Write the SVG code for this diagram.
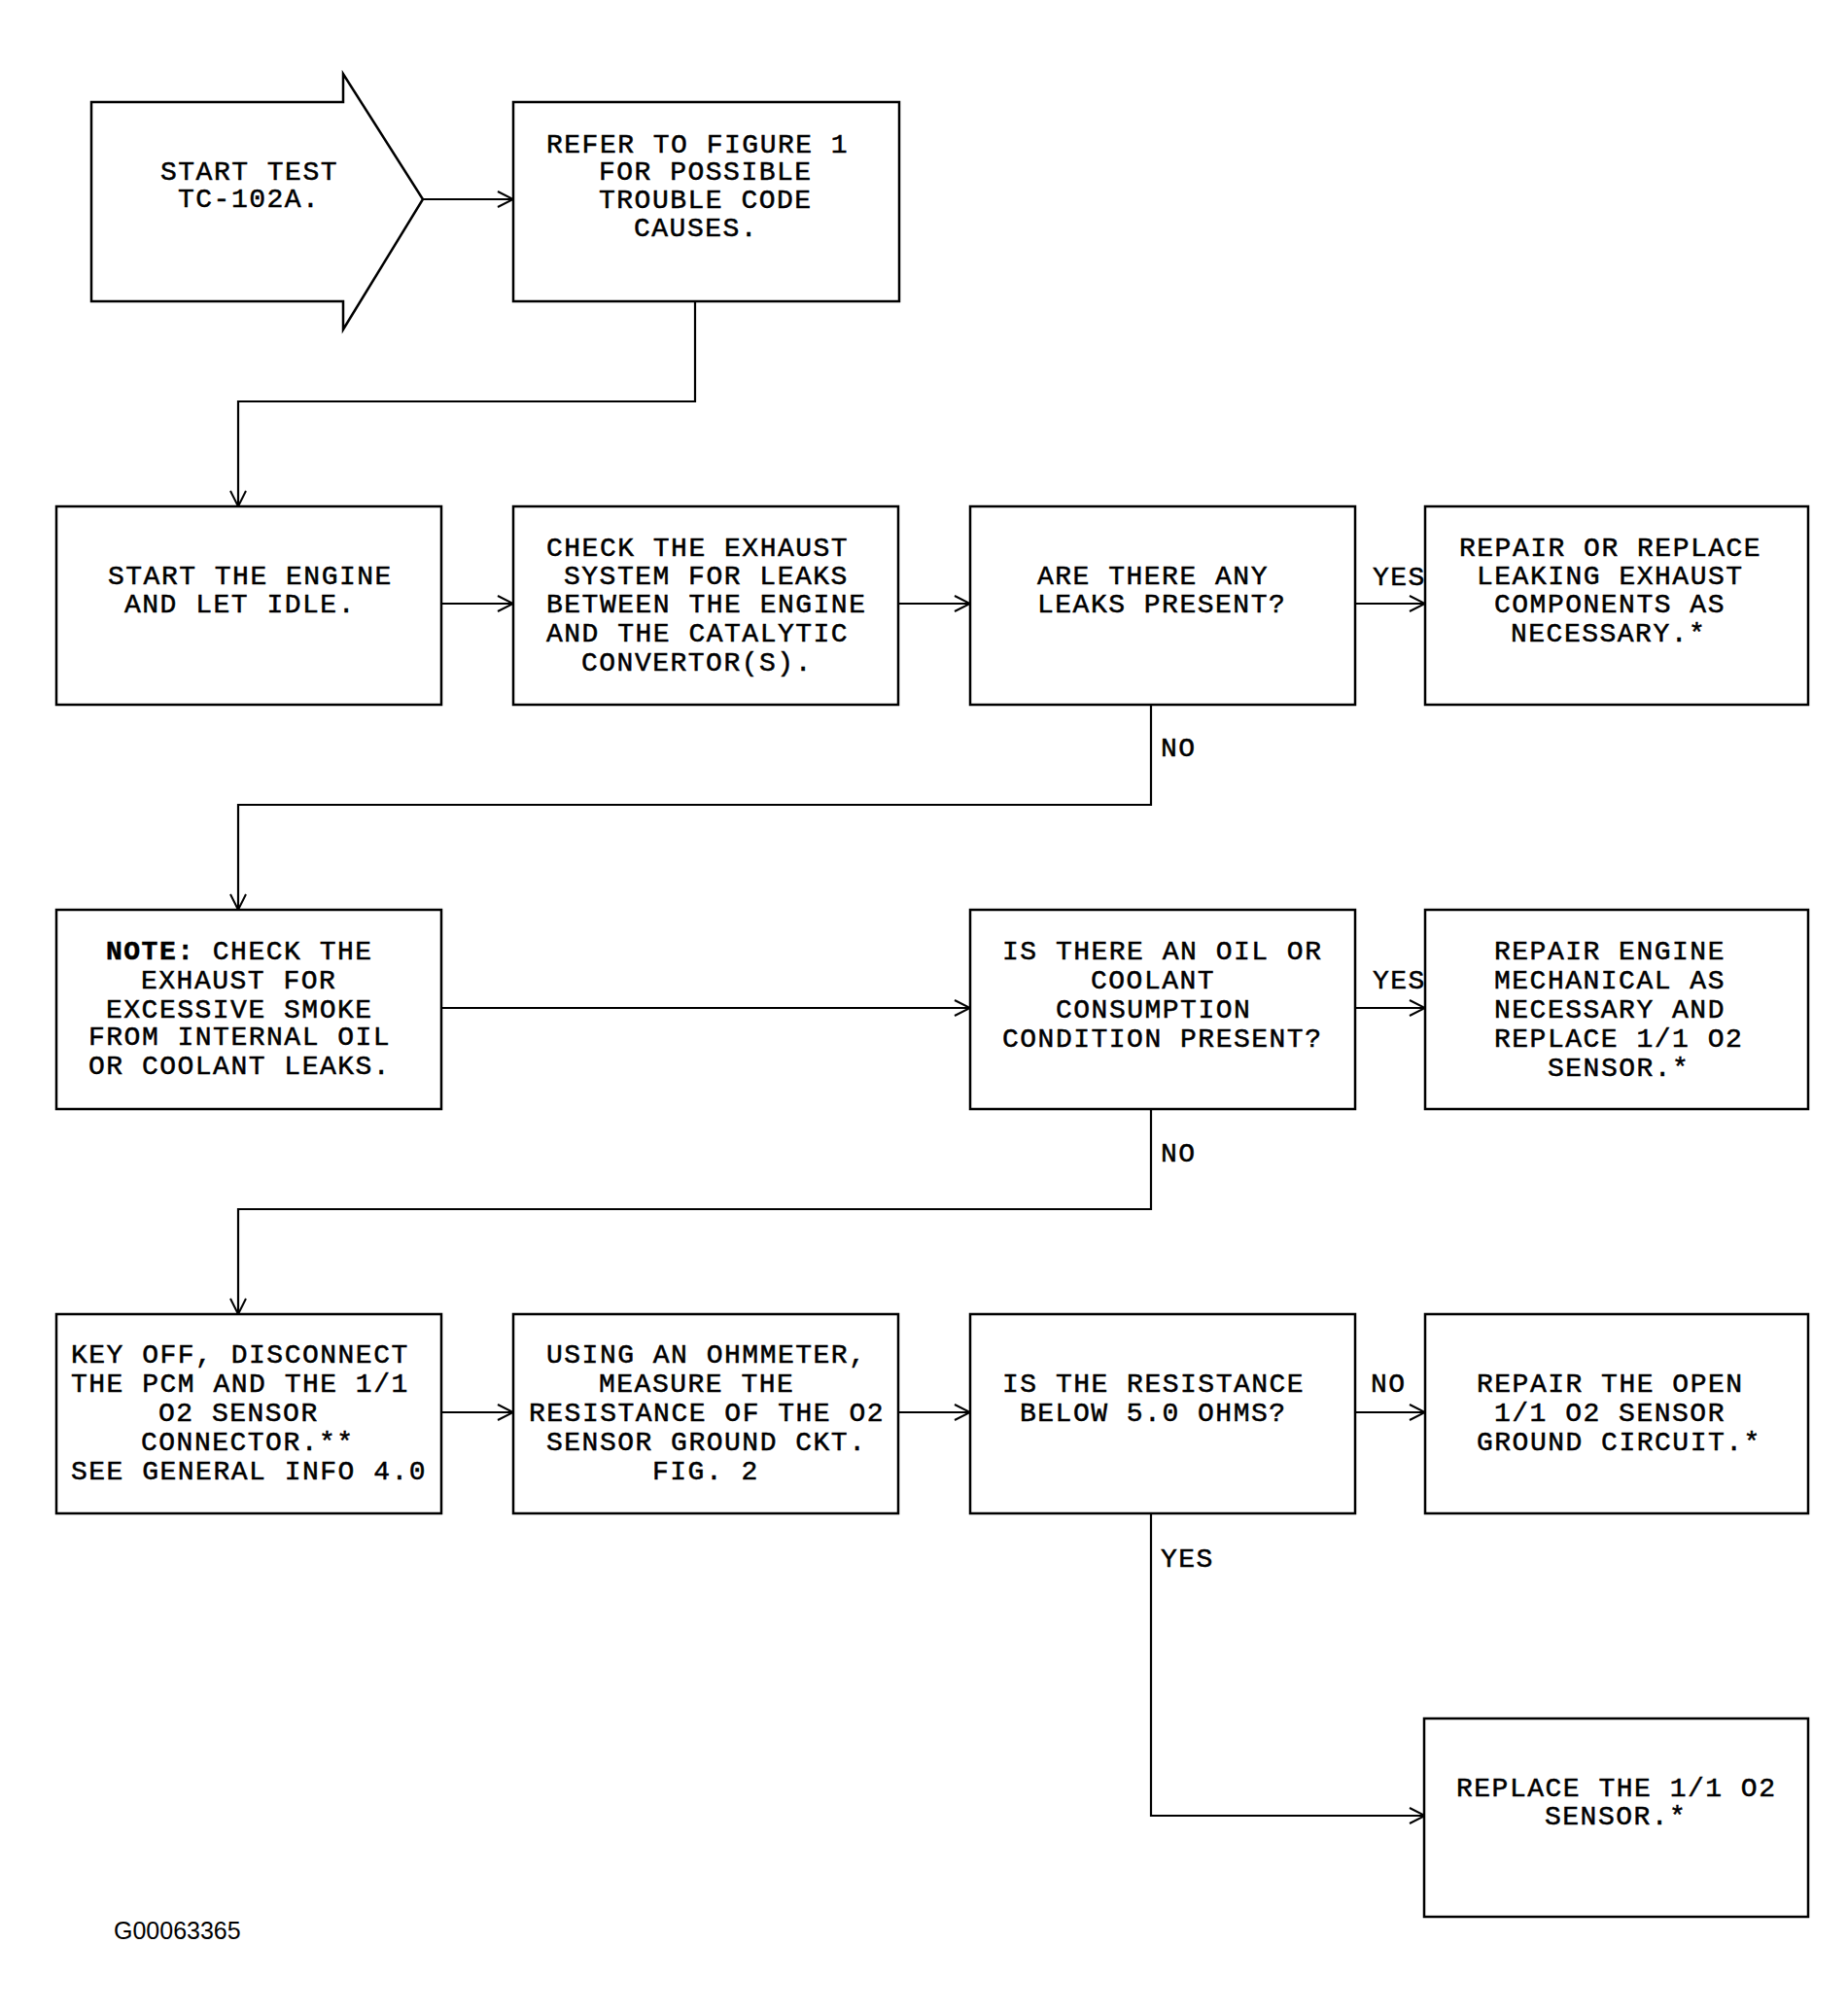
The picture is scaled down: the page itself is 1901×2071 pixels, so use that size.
<svg xmlns="http://www.w3.org/2000/svg" width="1901" height="2071" viewBox="0 0 1901 2071">
<style>
.box{fill:#fff;stroke:#000;stroke-width:2.5}
.t{font-family:"Liberation Mono","DejaVu Sans Mono",monospace;font-size:28px;letter-spacing:1.5px;fill:#000;stroke:#000;stroke-width:0.5}
.b{font-weight:bold}
.conn{fill:none;stroke:#000;stroke-width:2.2}
.id{font-family:"Liberation Sans",Arial,sans-serif;font-size:25px;fill:#000}
</style>
<defs>
<marker id="ah" viewBox="0 0 18 18" refX="17" refY="9" markerWidth="18" markerHeight="18" markerUnits="userSpaceOnUse" orient="auto">
<path d="M1,1 L17,9 L1,17" fill="none" stroke="#000" stroke-width="2"/>
</marker>
</defs>
<rect width="1901" height="2071" fill="#fff"/>
<g id="connectors">
<path class="conn" d="M435,205 H528" marker-end="url(#ah)"/>
<path class="conn" d="M715,310 V413 H245 V521" marker-end="url(#ah)"/>
<path class="conn" d="M454,621 H528" marker-end="url(#ah)"/>
<path class="conn" d="M924,621 H998" marker-end="url(#ah)"/>
<path class="conn" d="M1394,621 H1466" marker-end="url(#ah)"/>
<path class="conn" d="M1184,725 V828 H245 V936" marker-end="url(#ah)"/>
<path class="conn" d="M454,1037 H998" marker-end="url(#ah)"/>
<path class="conn" d="M1394,1037 H1466" marker-end="url(#ah)"/>
<path class="conn" d="M1184,1141 V1244 H245 V1352" marker-end="url(#ah)"/>
<path class="conn" d="M454,1453 H528" marker-end="url(#ah)"/>
<path class="conn" d="M924,1453 H998" marker-end="url(#ah)"/>
<path class="conn" d="M1394,1453 H1466" marker-end="url(#ah)"/>
<path class="conn" d="M1184,1557 V1868 H1466" marker-end="url(#ah)"/>
<text class="t" x="1412" y="602">YES</text>
<text class="t" x="1194" y="778">NO</text>
<text class="t" x="1412" y="1017">YES</text>
<text class="t" x="1194" y="1195">NO</text>
<text class="t" x="1410" y="1432">NO</text>
<text class="t" x="1194" y="1612">YES</text>
</g>
<g id="n_start">
<polygon class="box" points="94,105 353,105 353,76 435,205 353,339 353,310 94,310"/>
<text class="t" x="165" y="185">START TEST</text>
<text class="t" x="183" y="213">TC-102A.</text>
</g>
<g id="n_refer">
<rect class="box" x="528" y="105" width="397" height="205"/>
<text class="t" x="562" y="157">REFER TO FIGURE 1</text>
<text class="t" x="616" y="185">FOR POSSIBLE</text>
<text class="t" x="616" y="214">TROUBLE CODE</text>
<text class="t" x="652" y="243">CAUSES.</text>
</g>
<g id="n_start_engine">
<rect class="box" x="58" y="521" width="396" height="204"/>
<text class="t" x="111" y="601">START THE ENGINE</text>
<text class="t" x="128" y="630">AND LET IDLE.</text>
</g>
<g id="n_check_exhaust">
<rect class="box" x="528" y="521" width="396" height="204"/>
<text class="t" x="562" y="572">CHECK THE EXHAUST</text>
<text class="t" x="580" y="601">SYSTEM FOR LEAKS</text>
<text class="t" x="562" y="630">BETWEEN THE ENGINE</text>
<text class="t" x="562" y="660">AND THE CATALYTIC</text>
<text class="t" x="598" y="690">CONVERTOR(S).</text>
</g>
<g id="n_leaks">
<rect class="box" x="998" y="521" width="396" height="204"/>
<text class="t" x="1067" y="601">ARE THERE ANY</text>
<text class="t" x="1067" y="630">LEAKS PRESENT?</text>
</g>
<g id="n_repair_exhaust">
<rect class="box" x="1466" y="521" width="394" height="204"/>
<text class="t" x="1501" y="572">REPAIR OR REPLACE</text>
<text class="t" x="1519" y="601">LEAKING EXHAUST</text>
<text class="t" x="1537" y="630">COMPONENTS AS</text>
<text class="t" x="1554" y="660">NECESSARY.*</text>
</g>
<g id="n_note">
<rect class="box" x="58" y="936" width="396" height="205"/>
<text class="t" x="109" y="987"><tspan class="b">NOTE:</tspan> CHECK THE</text>
<text class="t" x="145" y="1017">EXHAUST FOR</text>
<text class="t" x="109" y="1047">EXCESSIVE SMOKE</text>
<text class="t" x="91" y="1075">FROM INTERNAL OIL</text>
<text class="t" x="91" y="1105">OR COOLANT LEAKS.</text>
</g>
<g id="n_oil">
<rect class="box" x="998" y="936" width="396" height="205"/>
<text class="t" x="1031" y="987">IS THERE AN OIL OR</text>
<text class="t" x="1122" y="1017">COOLANT</text>
<text class="t" x="1086" y="1047">CONSUMPTION</text>
<text class="t" x="1031" y="1077">CONDITION PRESENT?</text>
</g>
<g id="n_repair_engine">
<rect class="box" x="1466" y="936" width="394" height="205"/>
<text class="t" x="1537" y="987">REPAIR ENGINE</text>
<text class="t" x="1537" y="1017">MECHANICAL AS</text>
<text class="t" x="1537" y="1047">NECESSARY AND</text>
<text class="t" x="1537" y="1077">REPLACE 1/1 O2</text>
<text class="t" x="1592" y="1107">SENSOR.*</text>
</g>
<g id="n_key_off">
<rect class="box" x="58" y="1352" width="396" height="205"/>
<text class="t" x="73" y="1402">KEY OFF, DISCONNECT</text>
<text class="t" x="73" y="1432">THE PCM AND THE 1/1</text>
<text class="t" x="163" y="1462">O2 SENSOR</text>
<text class="t" x="145" y="1492">CONNECTOR.**</text>
<text class="t" x="73" y="1522">SEE GENERAL INFO 4.0</text>
</g>
<g id="n_ohmmeter">
<rect class="box" x="528" y="1352" width="396" height="205"/>
<text class="t" x="562" y="1402">USING AN OHMMETER,</text>
<text class="t" x="616" y="1432">MEASURE THE</text>
<text class="t" x="544" y="1462">RESISTANCE OF THE O2</text>
<text class="t" x="562" y="1492">SENSOR GROUND CKT.</text>
<text class="t" x="671" y="1522">FIG. 2</text>
</g>
<g id="n_resistance">
<rect class="box" x="998" y="1352" width="396" height="205"/>
<text class="t" x="1031" y="1432">IS THE RESISTANCE</text>
<text class="t" x="1049" y="1462">BELOW 5.0 OHMS?</text>
</g>
<g id="n_repair_open">
<rect class="box" x="1466" y="1352" width="394" height="205"/>
<text class="t" x="1519" y="1432">REPAIR THE OPEN</text>
<text class="t" x="1537" y="1462">1/1 O2 SENSOR</text>
<text class="t" x="1519" y="1492">GROUND CIRCUIT.*</text>
</g>
<g id="n_replace_sensor">
<rect class="box" x="1465" y="1768" width="395" height="204"/>
<text class="t" x="1498" y="1848">REPLACE THE 1/1 O2</text>
<text class="t" x="1589" y="1877">SENSOR.*</text>
</g>
<text class="id" x="117" y="1995">G00063365</text>
</svg>
